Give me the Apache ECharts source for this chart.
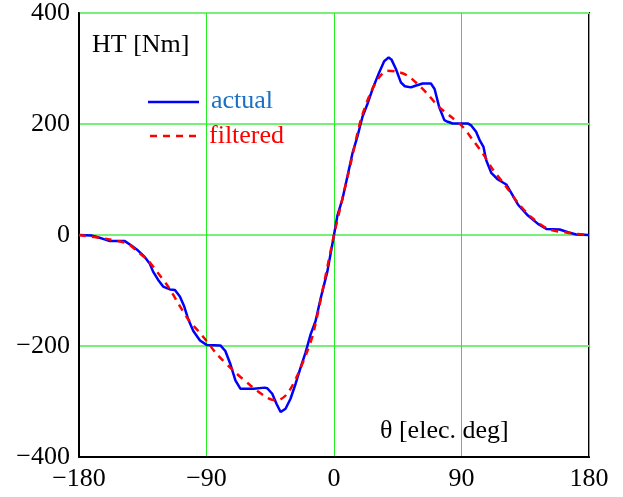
<!DOCTYPE html>
<html>
<head>
<meta charset="utf-8">
<script src="https://cdn.jsdelivr.net/npm/echarts@6/dist/echarts.min.js"></script>
<style>html,body{margin:0;padding:0;background:#fff}#c{width:623px;height:497px}</style>
</head>
<body>
<div id="c"></div>
<script>
// Data
var actualTheta = [-180,-171.3,-166.6,-163,-158.3,-147.7,-143,-138.3,-133.5,-130,-127.7,-124.1,-120.6,-115.8,-112.3,-108.8,-105.7,-102.9,-99.3,-94.6,-89.9,-80.2,-76.7,-73.1,-69.6,-66.1,-56.6,-49,-47.2,-43.6,-40.6,-37.7,-34.2,-30.7,-27.1,-23.6,-20.1,-16.5,-13,-9.4,-4.7,0,2.4,5.9,9.5,13,16.5,20.1,23.6,27.2,31.9,35.4,38.6,40.6,43.7,47.2,50,54.3,57.5,62.6,68.4,71,74.3,77.9,80.3,83.8,94.4,97,100.3,103,105.5,107.4,111,115.7,121.6,125.1,129.8,136.9,144,149.9,159.3,165.2,171,180];
var actualHT = [0,-1,-4,-7,-11,-11,-19,-28,-40,-52,-66,-81,-93,-98,-99,-111,-129,-152,-173,-190,-198,-199,-209,-233,-262,-277,-277,-275,-276,-286,-304,-319,-313,-295,-268,-239,-212,-179,-155,-114,-66,0,35,64,106,147,177,213,236,263,293,313,320,316,299,275,268,266,269,273,273,263,230,207,204,201,201,197,186,170,159,135,112,100,91,76,55,35,20,11,10,5,1,0];
var filteredTheta = [-180,-160.8,-145.4,-138.3,-131.2,-124.1,-117,-110,-102.9,-95.8,-89.9,-82.6,-70.8,-59,-47.2,-40.1,-33,-25.9,-18.8,-14.2,0,4.7,11.8,18.9,26,31.9,37.3,44.9,52,59,66.1,73.2,82.6,90.9,98,105,112.1,120.4,129.8,139.3,151,165,180];
var filteredHT = [0,-7,-16,-31,-46,-69,-93,-123,-152,-173,-191,-215,-245,-271,-293,-298,-286,-253,-209,-173,0,52,129,207,257,284,296,294,287,272,254,233,213,195,171,147,118,91,58,32,11,4,0];
var xTicks = [-180,-90,0,90,180];
var yTicks = [-400,-200,0,200,400];
var legendNames = ['actual','filtered'];
var yTitle = 'HT [Nm]';
var xTitle = 'θ [elec. deg]';

function pairs(xs, ys){ return xs.map(function(x,i){ return [x, ys[i]]; }); }
function fmt(v){ return v < 0 ? '\u2212' + Math.abs(v) : String(v); }

var FONT = 'Liberation Serif';
var FS = 26;
var chart = echarts.init(document.getElementById('c'));
chart.setOption({
  animation: false,
  backgroundColor: '#fff',
  grid: { left: 79, top: 10, right: 34, bottom: 40, show: true, borderColor: '#000', borderWidth: 2, backgroundColor: 'transparent' },
  xAxis: {
    type: 'value', min: xTicks[0], max: xTicks[xTicks.length-1], interval: 90,
    axisLine: { show: true, onZero: false, lineStyle: { color: '#000', width: 2 } },
    axisTick: { show: false },
    axisLabel: { color: '#000', fontFamily: FONT, fontSize: FS, margin: 9, formatter: fmt },
    splitLine: { show: true, lineStyle: { color: '#22ee22', width: 1 } }
  },
  yAxis: {
    type: 'value', min: yTicks[0], max: yTicks[yTicks.length-1], interval: 200,
    axisLine: { show: true, onZero: false, lineStyle: { color: '#000', width: 2 } },
    axisTick: { show: false },
    axisLabel: { color: '#000', fontFamily: FONT, fontSize: FS, margin: 9, formatter: fmt },
    splitLine: { show: true, lineStyle: { color: '#77f077', width: 2 } }
  },
  series: [
    { name: legendNames[0], type: 'line', data: pairs(actualTheta, actualHT), showSymbol: false, symbol: 'none',
      lineStyle: { color: '#0000ff', width: 2.5 }, z: 3 },
    { name: legendNames[1], type: 'line', data: pairs(filteredTheta, filteredHT), showSymbol: false, symbol: 'none', smooth: 0.3,
      lineStyle: { color: '#ff0000', width: 2.5, type: [7, 6] }, z: 4 }
  ],
  graphic: [
    { type: 'text', left: 92, top: 32, style: { text: yTitle, fontFamily: FONT, fontSize: FS, fill: '#000' } },
    { type: 'text', left: 380, top: 418, style: { text: xTitle, fontFamily: FONT, fontSize: FS, fill: '#000' } },
    { type: 'line', shape: { x1: 148, y1: 102, x2: 199, y2: 102 }, style: { stroke: '#0000ff', lineWidth: 2.5 } },
    { type: 'text', left: 211, top: 88, style: { text: legendNames[0], fontFamily: FONT, fontSize: FS, fill: '#1a70c4' } },
    { type: 'line', shape: { x1: 150, y1: 136, x2: 198, y2: 136 }, style: { stroke: '#ff0000', lineWidth: 2.5, lineDash: [7, 6] } },
    { type: 'text', left: 209, top: 123, style: { text: legendNames[1], fontFamily: FONT, fontSize: FS, fill: '#ff0000' } }
  ]
});
</script>
</body>
</html>
